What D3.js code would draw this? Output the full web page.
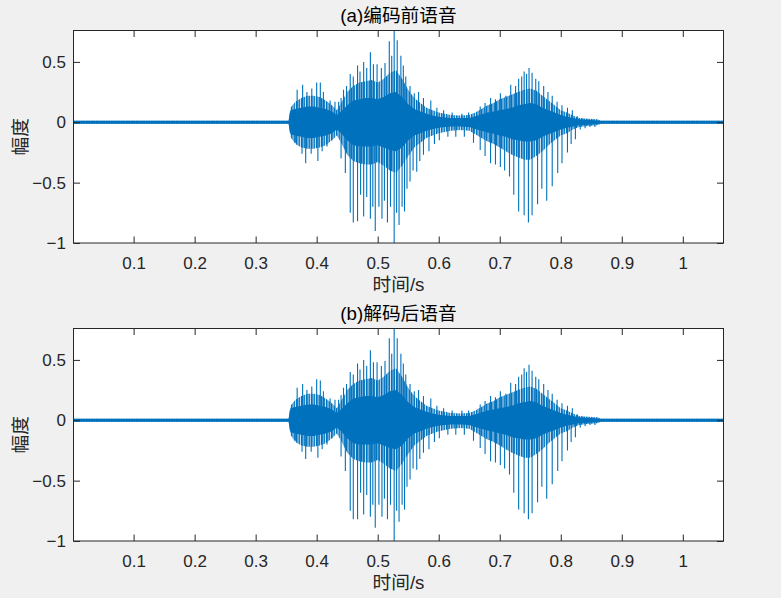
<!DOCTYPE html>
<html>
<head>
<meta charset="utf-8">
<script src="https://cdn.jsdelivr.net/npm/d3@7/dist/d3.min.js"></script>
<style>
body { margin: 0; background: #f0f0f0; }
text { font-family: "Liberation Sans", Arial, "Noto Sans CJK SC", sans-serif; }
</style>
</head>
<body>
<div id="chart"></div>
<script>
// values: time (s), amplitude
var xTicks = [0.1, 0.2, 0.3, 0.4, 0.5, 0.6, 0.7, 0.8, 0.9, 1]
var yTicks = [-1, -0.5, 0, 0.5]
var titles = ["(a)编码前语音", "(b)解码后语音"]
var xLabel = "时间/s"
var yLabel = "幅度"

// envelope of the waveform (both panels look the same at this resolution)
var envT = [0.0015, 0.354, 0.357, 0.365, 0.375, 0.385, 0.395, 0.405, 0.415, 0.425,
  0.433, 0.440, 0.450, 0.460, 0.470, 0.480, 0.490, 0.500, 0.510, 0.520,
  0.530, 0.540, 0.550, 0.560, 0.570, 0.580, 0.590, 0.600, 0.610, 0.620,
  0.635, 0.650, 0.660, 0.670, 0.680, 0.690, 0.700, 0.710, 0.720, 0.730,
  0.740, 0.750, 0.760, 0.770, 0.780, 0.790, 0.800, 0.810, 0.820, 0.830,
  0.845, 0.860, 0.866, 1.067]
// outer band, filled with dense oscillation
var denseHi = [0.013, 0.013, 0.12, 0.17, 0.20, 0.22, 0.22, 0.21, 0.18, 0.14,
  0.10, 0.16, 0.25, 0.30, 0.33, 0.34, 0.35, 0.33, 0.36, 0.41,
  0.43, 0.36, 0.27, 0.20, 0.16, 0.12, 0.10, 0.08, 0.07, 0.06,
  0.055, 0.06, 0.08, 0.11, 0.14, 0.16, 0.19, 0.21, 0.23, 0.25,
  0.27, 0.28, 0.26, 0.22, 0.18, 0.14, 0.10, 0.08, 0.055, 0.035,
  0.03, 0.025, 0.012, 0.012]
var denseLo = [-0.013, -0.013, -0.12, -0.18, -0.21, -0.22, -0.22, -0.21, -0.19, -0.15,
  -0.11, -0.17, -0.27, -0.32, -0.34, -0.35, -0.35, -0.33, -0.36, -0.40,
  -0.42, -0.36, -0.28, -0.21, -0.17, -0.13, -0.11, -0.09, -0.08, -0.07,
  -0.065, -0.07, -0.10, -0.13, -0.16, -0.18, -0.21, -0.24, -0.27, -0.29,
  -0.31, -0.31, -0.28, -0.24, -0.19, -0.15, -0.11, -0.09, -0.06, -0.04,
  -0.03, -0.025, -0.012, -0.012]
// inner solid core
var coreHi = [0.013, 0.013, 0.10, 0.11, 0.12, 0.13, 0.13, 0.12, 0.11, 0.09,
  0.06, 0.09, 0.14, 0.18, 0.19, 0.20, 0.20, 0.19, 0.21, 0.24,
  0.25, 0.21, 0.15, 0.11, 0.09, 0.07, 0.055, 0.045, 0.04, 0.035,
  0.035, 0.035, 0.05, 0.065, 0.08, 0.09, 0.10, 0.11, 0.12, 0.14,
  0.15, 0.16, 0.15, 0.12, 0.10, 0.08, 0.06, 0.045, 0.035, 0.025,
  0.02, 0.015, 0.012, 0.012]
var coreLo = [-0.013, -0.013, -0.10, -0.11, -0.12, -0.13, -0.13, -0.12, -0.11, -0.09,
  -0.06, -0.09, -0.15, -0.19, -0.20, -0.20, -0.20, -0.19, -0.21, -0.23,
  -0.24, -0.21, -0.15, -0.11, -0.09, -0.07, -0.055, -0.045, -0.04, -0.035,
  -0.035, -0.04, -0.055, -0.07, -0.085, -0.095, -0.11, -0.12, -0.14, -0.15,
  -0.16, -0.16, -0.15, -0.12, -0.10, -0.08, -0.06, -0.045, -0.035, -0.025,
  -0.02, -0.015, -0.012, -0.012]

// pitch pulses sticking out of the band: [time, peak]
var upA = [[0.368,0.27],[0.377,0.31],[0.384,0.25],[0.392,0.28],[0.400,0.33],[0.406,0.33],[0.411,0.25],[0.422,0.18],[0.430,0.17],
  [0.436,0.17],[0.440,0.20],[0.444,0.27],[0.449,0.30],[0.455,0.40],[0.460,0.38],[0.467,0.47],[0.471,0.42],[0.477,0.50],[0.482,0.45],
  [0.488,0.58],[0.493,0.48],[0.499,0.48],[0.506,0.45],[0.512,0.49],[0.519,0.67],[0.523,0.55],[0.527,0.80],[0.532,0.68],[0.538,0.55],
  [0.542,0.47],[0.546,0.38],[0.553,0.30],[0.560,0.24],[0.567,0.25],[0.575,0.20],[0.587,0.18],[0.597,0.12],[0.608,0.10],[0.622,0.08],
  [0.638,0.07],[0.649,0.08],
  [0.668,0.13],[0.676,0.16],[0.685,0.20],[0.693,0.19],[0.701,0.24],[0.710,0.22],[0.718,0.31],[0.726,0.30],[0.731,0.36],[0.736,0.38],
  [0.740,0.42],[0.744,0.40],[0.748,0.45],[0.753,0.41],[0.759,0.36],[0.764,0.34],[0.772,0.30],[0.779,0.25],[0.786,0.22],[0.794,0.17],
  [0.802,0.14],[0.811,0.12],[0.819,0.10],[0.827,0.05],[0.835,0.03]]
var downA = [[0.365,-0.17],[0.376,-0.26],[0.382,-0.34],[0.391,-0.26],[0.402,-0.32],[0.409,-0.24],[0.417,-0.20],[0.425,-0.15],
  [0.440,-0.30],[0.447,-0.42],[0.455,-0.75],[0.460,-0.83],[0.467,-0.82],[0.472,-0.60],[0.477,-0.78],[0.482,-0.62],[0.488,-0.80],
  [0.492,-0.70],[0.496,-0.90],[0.502,-0.70],[0.507,-0.80],[0.511,-0.65],[0.516,-0.83],[0.521,-0.70],[0.527,-1.02],[0.531,-0.75],
  [0.535,-0.85],[0.540,-0.70],[0.544,-0.74],[0.548,-0.55],[0.553,-0.49],[0.558,-0.40],[0.564,-0.41],[0.569,-0.32],[0.575,-0.27],
  [0.584,-0.24],[0.593,-0.18],[0.601,-0.15],[0.615,-0.12],[0.628,-0.12],[0.642,-0.12],
  [0.657,-0.17],[0.668,-0.23],[0.676,-0.28],[0.685,-0.34],[0.693,-0.35],[0.701,-0.37],[0.708,-0.40],[0.716,-0.45],[0.723,-0.60],
  [0.731,-0.74],[0.740,-0.77],[0.747,-0.83],[0.753,-0.77],[0.762,-0.68],[0.769,-0.55],[0.777,-0.65],[0.786,-0.53],[0.795,-0.42],
  [0.802,-0.34],[0.811,-0.25],[0.817,-0.18],[0.824,-0.14],[0.832,-0.06],[0.840,-0.05],[0.848,-0.04],[0.856,-0.04]]
var upB = [[0.368,0.27],[0.377,0.30],[0.384,0.25],[0.392,0.28],[0.400,0.34],[0.406,0.33],[0.411,0.24],[0.422,0.18],[0.430,0.17],
  [0.436,0.17],[0.440,0.21],[0.444,0.27],[0.449,0.30],[0.455,0.40],[0.460,0.38],[0.467,0.47],[0.471,0.42],[0.477,0.50],[0.482,0.45],
  [0.488,0.58],[0.493,0.48],[0.499,0.48],[0.506,0.45],[0.512,0.49],[0.519,0.68],[0.523,0.55],[0.527,0.80],[0.532,0.68],[0.538,0.55],
  [0.542,0.47],[0.546,0.38],[0.553,0.30],[0.560,0.24],[0.567,0.25],[0.575,0.20],[0.587,0.18],[0.597,0.12],[0.608,0.10],[0.622,0.08],
  [0.638,0.08],[0.649,0.08],
  [0.668,0.13],[0.676,0.16],[0.685,0.20],[0.693,0.19],[0.701,0.24],[0.710,0.22],[0.718,0.31],[0.726,0.30],[0.731,0.36],[0.736,0.38],
  [0.740,0.43],[0.744,0.40],[0.748,0.46],[0.753,0.41],[0.759,0.36],[0.764,0.34],[0.772,0.30],[0.779,0.25],[0.786,0.22],[0.794,0.17],
  [0.802,0.14],[0.811,0.12],[0.819,0.10],[0.827,0.05],[0.835,0.03]]
var downB = [[0.365,-0.17],[0.376,-0.26],[0.382,-0.32],[0.391,-0.26],[0.402,-0.31],[0.409,-0.24],[0.417,-0.20],[0.425,-0.15],
  [0.440,-0.30],[0.447,-0.42],[0.455,-0.75],[0.460,-0.82],[0.467,-0.82],[0.472,-0.60],[0.477,-0.78],[0.482,-0.62],[0.488,-0.80],
  [0.492,-0.70],[0.496,-0.89],[0.502,-0.70],[0.507,-0.80],[0.511,-0.65],[0.516,-0.82],[0.521,-0.70],[0.527,-1.02],[0.531,-0.75],
  [0.535,-0.84],[0.540,-0.70],[0.544,-0.74],[0.548,-0.55],[0.553,-0.49],[0.558,-0.40],[0.564,-0.41],[0.569,-0.32],[0.575,-0.27],
  [0.584,-0.24],[0.593,-0.18],[0.601,-0.15],[0.615,-0.12],[0.628,-0.12],[0.642,-0.12],
  [0.657,-0.17],[0.668,-0.23],[0.676,-0.28],[0.685,-0.34],[0.693,-0.35],[0.701,-0.37],[0.708,-0.40],[0.716,-0.45],[0.723,-0.60],
  [0.731,-0.74],[0.740,-0.77],[0.747,-0.82],[0.753,-0.77],[0.762,-0.68],[0.769,-0.55],[0.777,-0.65],[0.786,-0.53],[0.795,-0.42],
  [0.802,-0.34],[0.811,-0.25],[0.817,-0.18],[0.824,-0.14],[0.832,-0.06],[0.840,-0.05],[0.848,-0.04],[0.856,-0.04]]

var width = 781
var height = 598
var lineColor = "#0072bd"
var axColor = "#262626"

var svg = d3.select("#chart")
  .append("svg")
  .attr("width", width)
  .attr("height", height)

svg.append("rect").attr("width", width).attr("height", height).attr("fill", "#f0f0f0")

// vertical hairlines to stand in for the dense oscillation
var pat = svg.append("defs").append("pattern")
  .attr("id", "dense")
  .attr("patternUnits", "userSpaceOnUse")
  .attr("width", 2.5)
  .attr("height", 10)
pat.append("rect").attr("width", 2.5).attr("height", 10).attr("fill", "#d6e7f4")
pat.append("rect").attr("x", 0).attr("width", 1.5).attr("height", 10).attr("fill", lineColor)

var panels = [
  {top: 30, title: titles[0], up: upA, down: downA},
  {top: 328, title: titles[1], up: upB, down: downB}
]

var left = 73
var w = 650
var h = 212.5

var x = d3.scaleLinear().domain([0.0015, 1.0667]).range([0, w])
var y = d3.scaleLinear().domain([-1, 0.76]).range([h, 0])

function band(hi, lo) {
  return d3.area()
    .x(function(d, k) { return x(envT[k]) })
    .y0(function(d, k) { return y(lo[k]) })
    .y1(function(d, k) { return y(hi[k]) })
}

panels.forEach(function(p, i) {
  var g = svg.append("g").attr("transform", "translate(" + (left + 0.5) + "," + (p.top + 0.5) + ")")

  g.append("rect").attr("width", w).attr("height", h).attr("fill", "#fff")

  g.append("clipPath").attr("id", "clip" + i)
    .append("rect").attr("width", w).attr("height", h)

  var plot = g.append("g").attr("clip-path", "url(#clip" + i + ")")

  plot.append("path")
    .datum(envT)
    .attr("fill", "url(#dense)")
    .attr("d", band(denseHi, denseLo))

  plot.append("path")
    .datum(envT)
    .attr("fill", lineColor)
    .attr("d", band(coreHi, coreLo))

  plot.selectAll("line.spike")
    .data(p.up.concat(p.down))
    .enter().append("line")
      .attr("class", "spike")
      .attr("x1", function(d) { return x(d[0]) })
      .attr("x2", function(d) { return x(d[0]) })
      .attr("y1", y(0))
      .attr("y2", function(d) { return y(d[1]) })
      .attr("stroke", lineColor)
      .attr("stroke-width", 1.1)

  // axes, ticks pointing inward on all four sides
  var bottom = g.append("g").attr("transform", "translate(0," + h + ")")
    .call(d3.axisBottom(x).tickValues(xTicks).tickSize(-6.5).tickPadding(13.6).tickFormat(d3.format("")))
  var topAx = g.append("g")
    .call(d3.axisTop(x).tickValues(xTicks).tickSize(-6.5).tickFormat(""))
  var leftAx = g.append("g")
    .call(d3.axisLeft(y).tickValues(yTicks).tickSize(-6.5).tickPadding(7.6).tickFormat(d3.format("")))
  var rightAx = g.append("g").attr("transform", "translate(" + w + ",0)")
    .call(d3.axisRight(y).tickValues(yTicks).tickSize(-6.5).tickFormat(""))

  ;[bottom, topAx, leftAx, rightAx].forEach(function(a) {
    a.select(".domain").remove()
    a.selectAll("line").attr("stroke", axColor)
    a.selectAll("text").attr("fill", axColor).style("font-size", "17px")
  })

  g.append("rect").attr("width", w).attr("height", h)
    .attr("fill", "none").attr("stroke", axColor).attr("stroke-width", 1)

  g.append("text")
    .attr("x", w / 2)
    .attr("y", -9)
    .attr("text-anchor", "middle")
    .attr("fill", "#000")
    .style("font-size", "18.7px")
    .text(p.title)

  g.append("text")
    .attr("x", w / 2)
    .attr("y", h + 48)
    .attr("text-anchor", "middle")
    .attr("fill", axColor)
    .style("font-size", "18.7px")
    .text(xLabel)

  g.append("text")
    .attr("transform", "translate(" + (26 - left) + "," + (h / 2) + ") rotate(-90)")
    .attr("text-anchor", "middle")
    .attr("fill", axColor)
    .style("font-size", "18.7px")
    .text(yLabel)
})
</script>
</body>
</html>
